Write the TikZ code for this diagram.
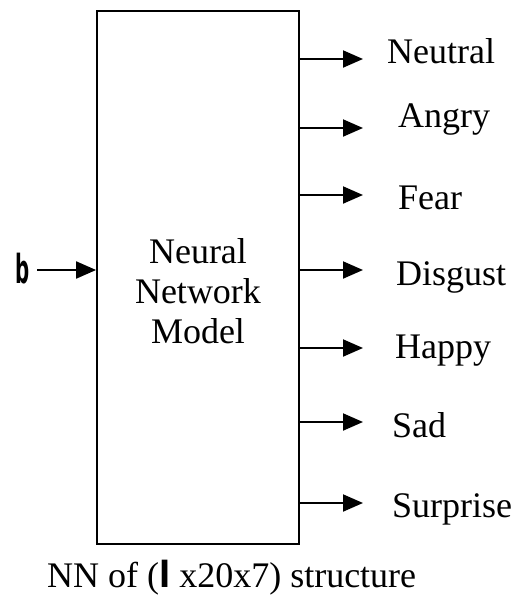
\documentclass[tikz,border=0pt]{standalone}
\usepackage{fontspec}
\setmainfont{Liberation Serif}
\newfontfamily\condsans{DejaVu Sans Condensed}
\usetikzlibrary{arrows.meta,positioning}

\begin{document}
\begin{tikzpicture}[x=1pt,y=-1pt,
  lbl/.style={font=\fontsize{36}{40}\selectfont,inner sep=0pt},
  io/.style={line width=2pt,-{Triangle[length=20pt,width=17pt]}}]
  \useasboundingbox (0,0) rectangle (525,595);
  \node[draw,line width=1.8pt,minimum width=202pt,minimum height=533pt,inner sep=0pt] (model) at (198,277.5) {};
  \node[lbl,align=center,anchor=base] (modeltxt) at (198,343) {Neural\\Network\\Model};
  \node[font=\condsans\bfseries\fontsize{40}{40}\selectfont,inner sep=0pt,anchor=base] (b) at (23,283) {\scalebox{0.55}[1]{b}};
  \draw[io,shorten <=7pt] (b.east |- 0,270) -- (model.west |- 0,270);
  \foreach \y/\bl/\x/\t [count=\i] in {59/63/387/Neutral,128/127/398/Angry,195/209/398/Fear,270/285/396/Disgust,348/358/395/Happy,422/437/392/Sad,503/517/392/Surprise} {
    \coordinate (o\i) at (363,\y);
    \draw[io] (model.east |- o\i) -- (o\i);
    \node[lbl,anchor=base west] (e\i) at (\x,\bl) {\t};
  }
  \node[lbl,anchor=base west] (cap) at (47,587) {NN of ({\condsans\bfseries l} x20x7) structure};
\end{tikzpicture}
\end{document}
